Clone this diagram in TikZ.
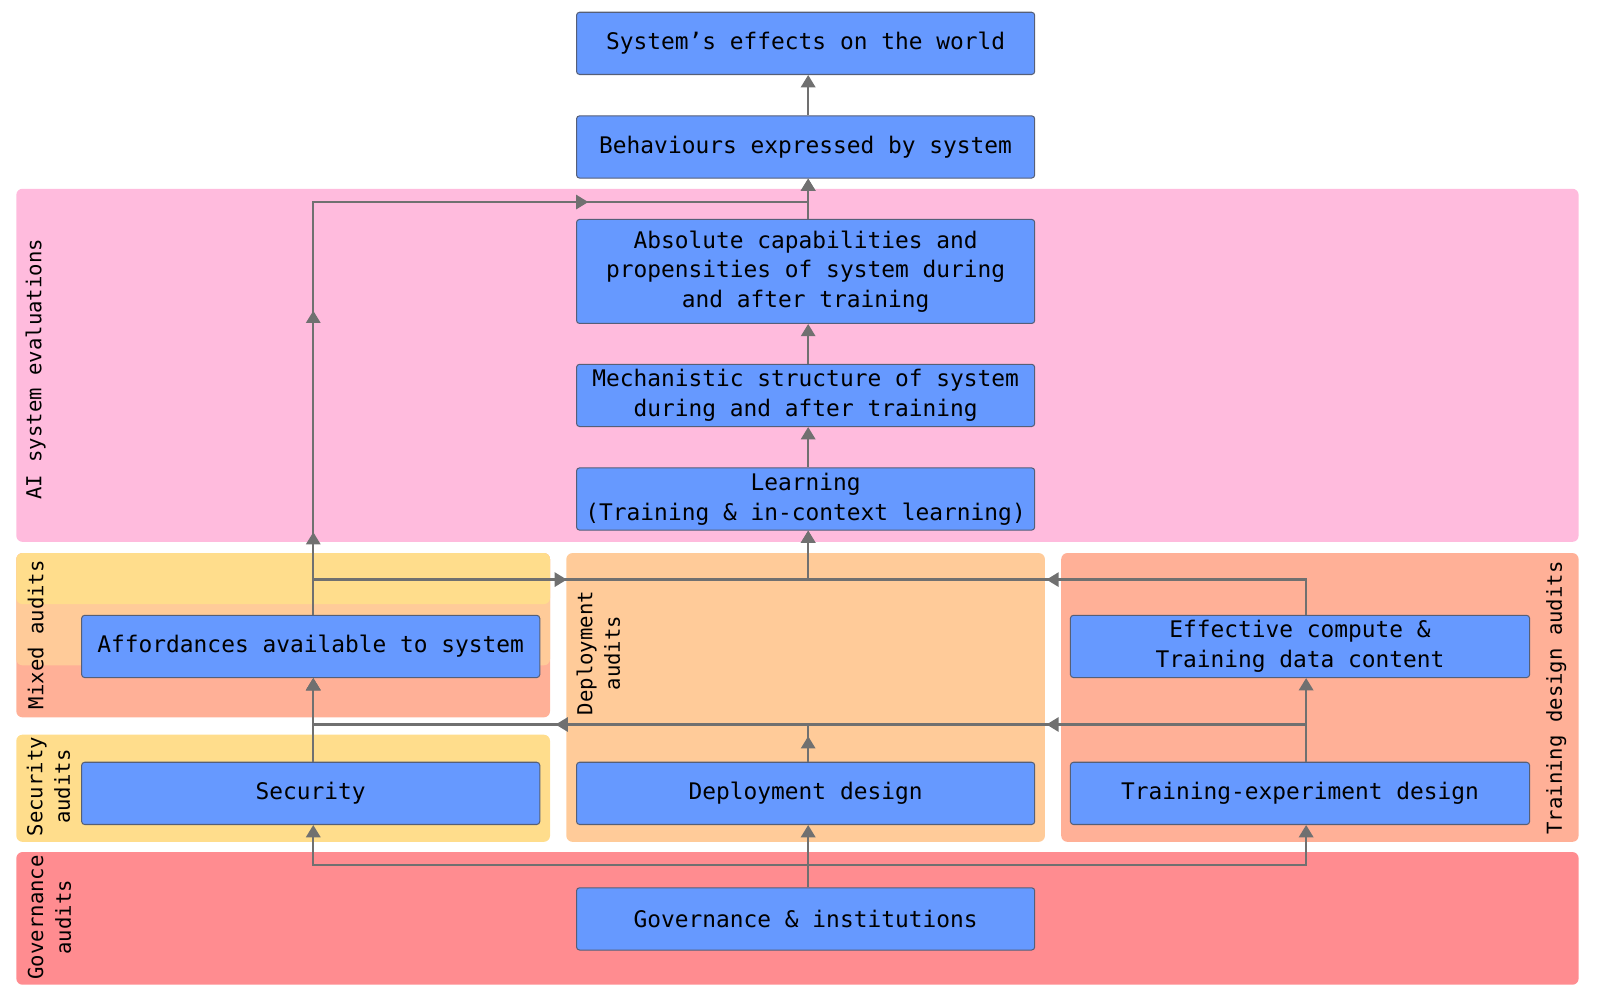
\documentclass[tikz,border=0pt]{standalone}
\usepackage{fontspec}
\newfontfamily\dmono{DejaVu Sans Mono}
\usetikzlibrary{arrows.meta,decorations.markings}
\definecolor{boxblue}{RGB}{102,153,255}
\definecolor{boxedge}{RGB}{85,95,120}
\definecolor{evalpink}{RGB}{255,187,221}
\definecolor{secyellow}{RGB}{255,221,140}
\definecolor{deppeach}{RGB}{255,203,153}
\definecolor{trsalmon}{RGB}{255,176,151}
\definecolor{govred}{RGB}{255,140,144}
\definecolor{conngray}{RGB}{112,112,112}
\newcommand\midtip{\arrow{Triangle[length=6pt,width=7pt]}}
\begin{document}
\begin{tikzpicture}[x=0.5pt,y=-0.5pt,
 box/.style={draw=boxedge, line width=0.5pt, fill=boxblue, rounded corners=1.5pt,
   minimum width=224.5pt, minimum height=30.5pt, inner sep=0pt, align=center,
   font=\dmono\fontsize{11.2}{14.5}\selectfont},
 region/.style={rounded corners=3pt},
 lab/.style={rotate=90, align=center, inner sep=0pt, font=\dmono\fontsize{10.1}{13.5}\selectfont},
 conn/.style={color=conngray, line width=1.1pt, -{Triangle[length=6pt,width=7pt]}},
]
\useasboundingbox (0,0) rectangle (1568,986);
% regions
\fill[evalpink, region] (16,185) rectangle (1547,531);
\fill[trsalmon, region] (16,542) rectangle (539,703);
\fill[deppeach, region] (16,542) rectangle (539,652);
\fill[secyellow, region] (16,542) rectangle (539,592);
\fill[secyellow, region] (16,720) rectangle (539,825);
\fill[deppeach, region] (555,542) rectangle (1024,825);
\fill[trsalmon, region] (1040,542) rectangle (1547,825);
\fill[govred, region] (16,835) rectangle (1547,965);
% region labels
\node[lab] (labEval) at (35,362) {AI system evaluations};
\node[lab] (labMixed) at (35,622) {Mixed audits};
\node[lab] (labSec) at (47.5,771) {Security\\audits};
\node[lab] (labDep) at (586.5,640) {Deployment\\audits};
\node[lab] (labTrain) at (1525,684) {Training design audits};
\node[lab] (labGov) at (48.5,899) {Governance\\audits};
% boxes
\node[box] (effects) at (789.5,42.5) {System’s effects on the world};
\node[box] (behav) at (789.5,144) {Behaviours expressed by system};
\node[box, minimum height=51pt] (absol) at (789.5,266) {Absolute capabilities and\\propensities of system during\\and after training};
\node[box] (mech) at (789.5,387.5) {Mechanistic structure of system\\during and after training};
\node[box] (learn) at (789.5,489) {Learning\\(Training \& in-context learning)};
\node[box] (afford) at (304.5,633.5) {Affordances available to system};
\node[box, minimum width=225pt] (effect) at (1274,633.5) {Effective compute \&\\Training data content};
\node[box] (secur) at (304.5,777.5) {Security};
\node[box] (deploy) at (789.5,777.5) {Deployment design};
\node[box, minimum width=225pt] (trainx) at (1274,777.5) {Training-experiment design};
\node[box] (gov) at (789.5,900.5) {Governance \& institutions};
% helper coordinates
\coordinate (colL) at (307,0);
\coordinate (colM) at (792,0);
\coordinate (colR) at (1280,0);
\coordinate (yTop) at (0,198);
\coordinate (yA) at (0,568);
\coordinate (yB) at (0,710);
\coordinate (yG) at (0,848);
% connectors
\draw[conn] (colM |- behav.north) -- (colM |- effects.south);
\draw[conn] (colM |- absol.north) -- (colM |- behav.south);
\draw[conn] (colM |- mech.north) -- (colM |- absol.south);
\draw[conn] (colM |- learn.north) -- (colM |- mech.south);
\draw[conn, postaction={decorate}, decoration={markings,
   mark=at position 40.5pt with {\midtip},
   mark=at position 149pt with {\midtip},
   mark=at position 337pt with {\midtip}}]
  (colL |- afford.north) -- (colL |- yTop) -- (colM |- yTop) -- (colM |- behav.south);
\draw[conn, postaction={decorate}, decoration={markings,
   mark=at position 141.5pt with {\midtip}}]
  (colL |- afford.north) -- (colL |- yA) -- (colM |- yA) -- (colM |- learn.south);
\draw[conn, postaction={decorate}, decoration={markings,
   mark=at position 144.5pt with {\midtip}}]
  (colR |- effect.north) -- (colR |- yA) -- (colM |- yA) -- (colM |- learn.south);
\draw[conn, postaction={decorate}, decoration={markings,
   mark=at position 12.5pt with {\midtip},
   mark=at position 142pt with {\midtip}}]
  (colM |- deploy.north) -- (colM |- yB) -- (colL |- yB) -- (colL |- afford.south);
\draw[conn, postaction={decorate}, decoration={markings,
   mark=at position 145.5pt with {\midtip}}]
  (colR |- trainx.north) -- (colR |- yB) -- (colL |- yB) -- (colL |- afford.south);
\draw[conn] (colR |- trainx.north) -- (colR |- effect.south);
\draw[conn] (colL |- secur.north) -- (colL |- afford.south);
\draw[conn] (colM |- gov.north) -- (colM |- deploy.south);
\draw[conn] (colM |- gov.north) -- (colM |- yG) -- (colL |- yG) -- (colL |- secur.south);
\draw[conn] (colM |- gov.north) -- (colM |- yG) -- (colR |- yG) -- (colR |- trainx.south);
\end{tikzpicture}
\end{document}
